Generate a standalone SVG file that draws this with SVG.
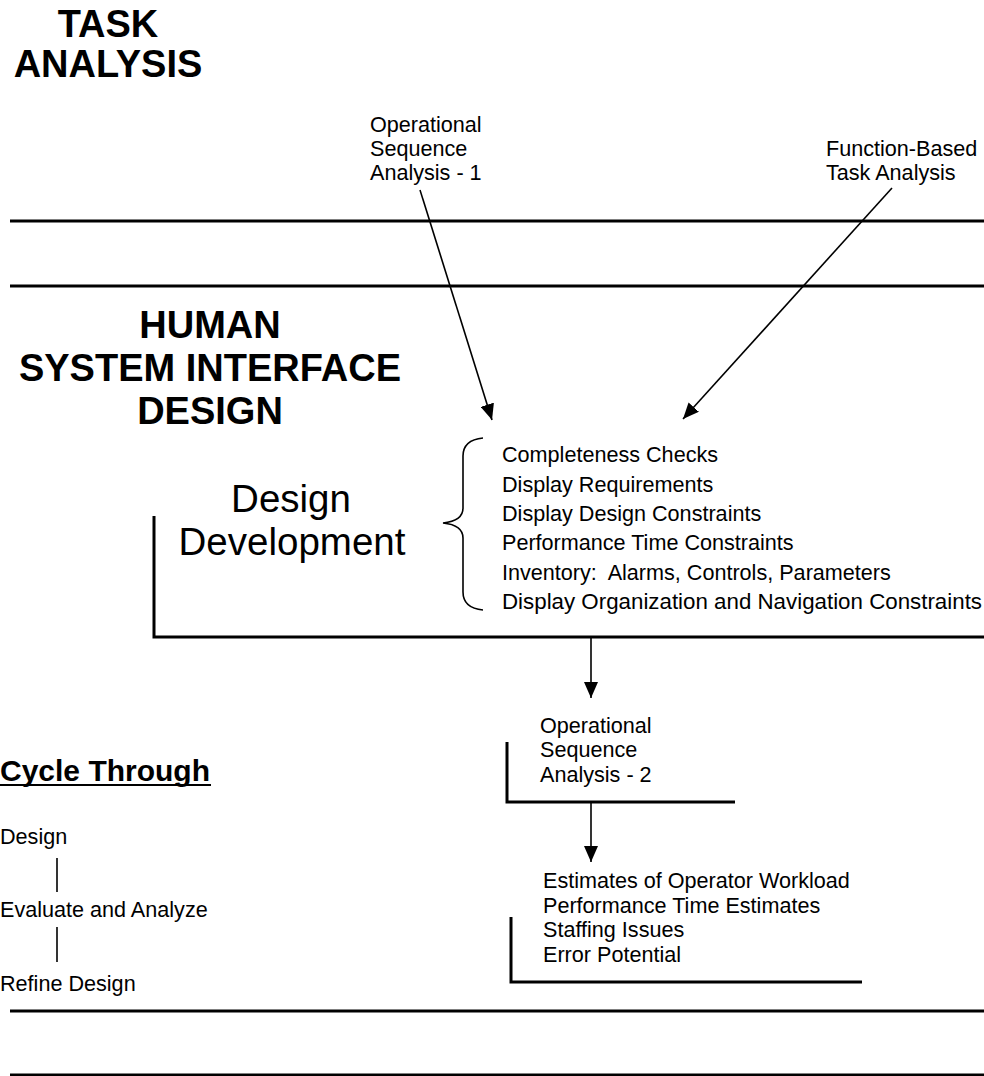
<svg xmlns="http://www.w3.org/2000/svg" width="984" height="1076" viewBox="0 0 984 1076">
<style>
text{font-family:"Liberation Sans",Arial,sans-serif;fill:#000}
.title{font-size:38px;font-weight:bold}
.big{font-size:38.5px}
.sm{font-size:21.6px}
.cyc{font-size:30px;font-weight:bold}
.rule{stroke:#000;stroke-width:3;fill:none}
.thin{stroke:#000;stroke-width:1.6;fill:none}
</style>
<defs>
<marker id="ah" markerUnits="userSpaceOnUse" markerWidth="17" markerHeight="14" viewBox="0 0 17 14" refX="16" refY="7" orient="auto">
<path d="M0,0 L16,7 L0,14 Z" fill="#000"/>
</marker>
</defs>
<rect width="984" height="1076" fill="#fff"/>

<g id="task-analysis">
<text class="title" x="108" y="37" text-anchor="middle">TASK</text>
<text class="title" x="108" y="77" text-anchor="middle">ANALYSIS</text>
</g>

<g id="section-rules">
<line class="rule" x1="10" y1="221" x2="984" y2="221"/>
<line class="rule" x1="10" y1="286" x2="984" y2="286"/>
<line class="rule" x1="10" y1="1011" x2="984" y2="1011"/>
<line class="rule" x1="10" y1="1075" x2="984" y2="1075"/>
</g>

<g id="osa1">
<text class="sm" x="370" y="132">Operational</text>
<text class="sm" x="370" y="156">Sequence</text>
<text class="sm" x="370" y="180">Analysis - 1</text>
</g>

<g id="fbta">
<text class="sm" x="826" y="156">Function-Based</text>
<text class="sm" x="826" y="180">Task Analysis</text>
</g>

<g id="hsi-design">
<text class="title" x="210" y="338" text-anchor="middle">HUMAN</text>
<text class="title" x="210" y="381" text-anchor="middle">SYSTEM INTERFACE</text>
<text class="title" x="210" y="424" text-anchor="middle">DESIGN</text>
</g>

<g id="design-development">
<text class="big" x="291" y="512" text-anchor="middle">Design</text>
<text class="big" x="292" y="555" text-anchor="middle">Development</text>
<path class="rule" d="M154,516 V637 H984"/>
<path class="thin" d="M483,438 Q463,440 463,456 V508 Q463,521 443,523 Q463,525 463,538 V592 Q463,608 483,610"/>
<text class="sm" x="502" y="462">Completeness Checks</text>
<text class="sm" x="502" y="492">Display Requirements</text>
<text class="sm" x="502" y="521">Display Design Constraints</text>
<text class="sm" x="502" y="550">Performance Time Constraints</text>
<text class="sm" x="502" y="580" xml:space="preserve">Inventory:  Alarms, Controls, Parameters</text>
<text class="sm" x="502" y="609" textLength="480" lengthAdjust="spacingAndGlyphs">Display Organization and Navigation Constraints</text>
</g>

<g id="osa2">
<text class="sm" x="540" y="733">Operational</text>
<text class="sm" x="540" y="757">Sequence</text>
<text class="sm" x="540" y="782">Analysis - 2</text>
<path class="rule" d="M507,742 V802 H735"/>
</g>

<g id="estimates">
<text class="sm" x="543" y="888">Estimates of Operator Workload</text>
<text class="sm" x="543" y="913">Performance Time Estimates</text>
<text class="sm" x="543" y="937">Staffing Issues</text>
<text class="sm" x="543" y="962">Error Potential</text>
<path class="rule" d="M511,917 V982 H862"/>
</g>

<g id="cycle-through">
<text class="cyc" x="0" y="781">Cycle Through</text>
<line x1="0" y1="785" x2="211" y2="785" stroke="#000" stroke-width="2.2"/>
<text class="sm" x="0" y="844">Design</text>
<line class="thin" x1="57" y1="858" x2="57" y2="892"/>
<text class="sm" x="0" y="917">Evaluate and Analyze</text>
<line class="thin" x1="57" y1="927" x2="57" y2="962"/>
<text class="sm" x="0" y="991">Refine Design</text>
</g>

<g id="connectors">
<line class="thin" x1="420" y1="190" x2="492" y2="420" marker-end="url(#ah)"/>
<line class="thin" x1="892" y1="188" x2="683" y2="419" marker-end="url(#ah)"/>
<line class="thin" x1="591" y1="637" x2="591" y2="698" marker-end="url(#ah)"/>
<line class="thin" x1="591" y1="802" x2="591" y2="862" marker-end="url(#ah)"/>
</g>
</svg>
